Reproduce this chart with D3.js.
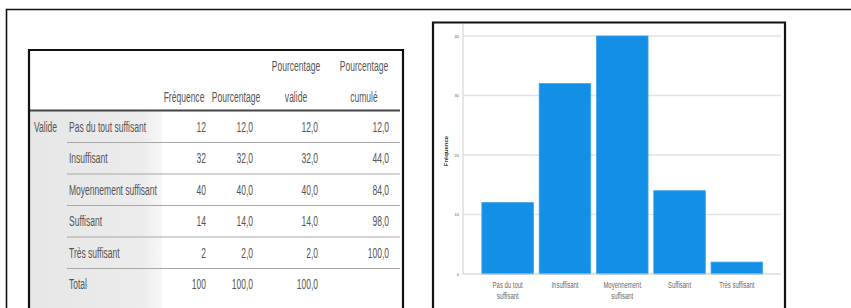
<!DOCTYPE html>
<html>
<head>
<meta charset="utf-8">
<script src="https://cdn.jsdelivr.net/npm/d3@7"></script>
<style>
  html, body { margin: 0; padding: 0; background: #fff; }
  svg { display: block; }
</style>
</head>
<body>
<svg id="fig" width="851" height="308"></svg>
<script>
// categories of the variable
var categories = ["Pas du tout suffisant", "Insuffisant", "Moyennement suffisant", "Suffisant", "Très suffisant"];
// frequencies
var frequences = [12, 32, 40, 14, 2];
var pourcentages = [12.0, 32.0, 40.0, 14.0, 2.0];
var valides = [12.0, 32.0, 40.0, 14.0, 2.0];
var cumules = [12.0, 44.0, 84.0, 98.0, 100.0];
var totalFreq = 100;
var totalPct = 100.0;

// table headers (each can be two lines)
var headers = [["Fréquence"], ["Pourcentage"], ["Pourcentage", "valide"], ["Pourcentage", "cumulé"]];

// bar chart labels / ticks
var barLabels = [["Pas du tout", "suffisant"], ["Insuffisant"], ["Moyennement", "suffisant"], ["Suffisant"], ["Très suffisant"]];
var yTicks = [0, 10, 20, 30, 40];

var svg = d3.select('#fig');
var fmt = function(v) { return d3.format('.1f')(v).replace('.', ','); };

// ---------- outer frame ----------
svg.append('path')
  .attr('d', 'M6.5,308 L6.5,9.5 L851,9.5')
  .attr('fill', 'none')
  .attr('stroke', '#111')
  .attr('stroke-width', 1.6);

// ---------- table ----------
var table = {left: 29, top: 50, right: 403, headLine: 110.5, rowsTop: 111, rowsBottom: 300};
var tg = svg.append('g');

// gray shaded label column
var grad = svg.append('defs').append('linearGradient')
  .attr('id', 'shade').attr('x1', '0').attr('x2', '1');
grad.append('stop').attr('offset', '0').attr('stop-color', '#e6e6e6');
grad.append('stop').attr('offset', '0.85').attr('stop-color', '#ececec');
grad.append('stop').attr('offset', '1').attr('stop-color', '#f7f7f7');

tg.append('rect')
  .attr('x', table.left).attr('y', table.rowsTop)
  .attr('width', 133).attr('height', 308 - table.rowsTop)
  .attr('fill', 'url(#shade)');

var rowLabels = categories.concat(['Total']);
var rowY = d3.scaleBand()
  .domain(d3.range(rowLabels.length))
  .range([table.rowsTop, table.rowsBottom]);

// row separators
tg.selectAll('line.sep')
  .data(d3.range(rowLabels.length - 1))
  .enter().append('line')
  .attr('class', 'sep')
  .attr('x1', 67).attr('x2', 400)
  .attr('y1', function(d) { return rowY(d) + rowY.bandwidth(); })
  .attr('y2', function(d) { return rowY(d) + rowY.bandwidth(); })
  .attr('stroke', '#a8a8a8').attr('stroke-width', 1);

// header bottom line
tg.append('line')
  .attr('x1', table.left).attr('x2', 400)
  .attr('y1', table.headLine).attr('y2', table.headLine)
  .attr('stroke', '#444').attr('stroke-width', 2);

// box
tg.append('path')
  .attr('d', 'M' + table.left + ',308 L' + table.left + ',' + table.top + ' L' + table.right + ',' + table.top + ' L' + table.right + ',308')
  .attr('fill', 'none')
  .attr('stroke', '#111').attr('stroke-width', 2.2);

var sx = 0.55; // squeezed text, as in the screenshot
function squeezed(sel, x, y, anchor) {
  return sel.append('text')
    .attr('transform', 'translate(' + x + ',' + y + ') scale(' + sx + ',1)')
    .attr('text-anchor', anchor || 'start')
    .attr('dominant-baseline', 'central')
    .attr('font-family', 'Liberation Sans, Arial, sans-serif')
    .attr('font-size', 15.5)
    .attr('fill', '#555');
}

// header texts
var headCenters = [184, 236, 296, 364];
headers.forEach(function(h, i) {
  var lines = h.length === 1 ? [97] : [66, 97];
  h.forEach(function(t, j) {
    squeezed(tg, headCenters[i], lines[j], 'middle').text(t);
  });
});

// body
squeezed(tg, 34, rowY(0) + rowY.bandwidth() / 2).text('Valide');
rowLabels.forEach(function(lab, i) {
  squeezed(tg, 69, rowY(i) + rowY.bandwidth() / 2).text(lab);
});

var colRight = [206, 253, 318, 389];
var cols = [
  frequences.concat([totalFreq]).map(String),
  pourcentages.concat([totalPct]).map(fmt),
  valides.concat([totalPct]).map(fmt),
  cumules.map(fmt).concat([''])
];
cols.forEach(function(col, c) {
  col.forEach(function(v, i) {
    squeezed(tg, colRight[c], rowY(i) + rowY.bandwidth() / 2, 'end').text(v);
  });
});

// ---------- bar chart ----------
var panel = {left: 433, top: 22.5, right: 785};
var cg = svg.append('g');

var x = d3.scaleBand()
  .domain(categories)
  .range([479, 765.5])
  .paddingInner(0.1)
  .paddingOuter(0.05);

var y = d3.scaleLinear()
  .domain([0, 40])
  .range([274, 36]);

// gridlines
cg.selectAll('line.grid')
  .data(yTicks.slice(1))
  .enter().append('line')
  .attr('class', 'grid')
  .attr('x1', 463).attr('x2', 781)
  .attr('y1', function(d) { return y(d); })
  .attr('y2', function(d) { return y(d); })
  .attr('stroke', '#e2e2e2').attr('stroke-width', 1.6);

// y axis line
cg.append('line')
  .attr('x1', 463).attr('x2', 463)
  .attr('y1', 24).attr('y2', y(0))
  .attr('stroke', '#dcdcdc').attr('stroke-width', 1.4);

// bars
cg.selectAll('rect.bar')
  .data(frequences)
  .enter().append('rect')
  .attr('class', 'bar')
  .attr('x', function(d, i) { return x(categories[i]); })
  .attr('y', function(d) { return y(d); })
  .attr('width', x.bandwidth())
  .attr('height', function(d) { return y(0) - y(d); })
  .attr('fill', '#1390e5')
  .attr('stroke', '#3da3ea')
  .attr('stroke-width', 0.8);

// baseline
cg.append('line')
  .attr('x1', 463).attr('x2', 781)
  .attr('y1', y(0)).attr('y2', y(0))
  .attr('stroke', '#c8c8c8').attr('stroke-width', 1.2);

// y tick labels
var yAxis = d3.axisLeft(y).tickValues(yTicks).tickSize(0).tickPadding(4);
var ya = cg.append('g')
  .attr('transform', 'translate(463,0)')
  .call(yAxis);
ya.select('.domain').remove();
ya.selectAll('text')
  .attr('font-family', 'Liberation Sans, Arial, sans-serif')
  .attr('font-size', 4)
  .attr('fill', '#555');

// y axis title
cg.append('text')
  .attr('transform', 'translate(446,151) rotate(-90)')
  .attr('text-anchor', 'middle')
  .attr('dominant-baseline', 'central')
  .attr('font-family', 'Liberation Sans, Arial, sans-serif')
  .attr('font-weight', 'bold')
  .attr('font-size', 6)
  .attr('fill', '#333')
  .text('Fréquence');

// x labels
barLabels.forEach(function(lines, i) {
  var cx = x(categories[i]) + x.bandwidth() / 2;
  lines.forEach(function(t, j) {
    cg.append('text')
      .attr('transform', 'translate(' + cx + ',' + (285 + j * 11) + ') scale(0.7,1)')
      .attr('text-anchor', 'middle')
      .attr('dominant-baseline', 'central')
      .attr('font-family', 'Liberation Sans, Arial, sans-serif')
      .attr('font-size', 8.5)
      .attr('fill', '#666')
      .text(t);
  });
});

// panel border
cg.append('path')
  .attr('d', 'M' + panel.left + ',308 L' + panel.left + ',' + panel.top + ' L' + panel.right + ',' + panel.top + ' L' + panel.right + ',308')
  .attr('fill', 'none')
  .attr('stroke', '#111').attr('stroke-width', 2.2);
</script>
</body>
</html>
